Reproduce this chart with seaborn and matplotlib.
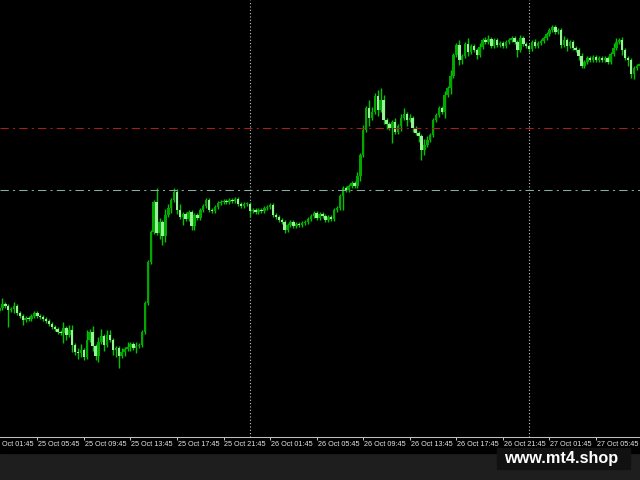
import matplotlib
matplotlib.use("Agg")
import matplotlib.pyplot as plt
from matplotlib.patches import Rectangle
from matplotlib.lines import Line2D
import pandas as pd
import seaborn as sns

# M15 bars, bar 0 = 25 Oct 01:45. The screenshot shows bars 3..223.
first_bar = 3
first_open = 126

close = [
    129, 133, 131, 127, 128, 131, 124, 121, 117, 119,
    118, 121, 124, 121, 120, 118, 116, 113, 110, 108,
    105, 104, 109, 102, 107, 92, 85, 84, 87, 80,
    97, 105, 91, 81, 95, 101, 92, 102, 97, 87,
    89, 81, 85, 88, 90, 93, 89, 91, 92, 105,
    134, 175, 205, 235, 204, 215, 201, 222, 229, 237,
    245, 227, 220, 223, 218, 225, 211, 222, 219, 227,
    231, 237, 227, 226, 230, 234, 235, 236, 235, 237,
    236, 238, 233, 231, 233, 233, 226, 227, 225, 227,
    226, 229, 230, 232, 222, 220, 217, 215, 207, 212,
    215, 211, 213, 212, 214, 215, 218, 221, 224, 219,
    223, 221, 217, 220, 218, 227, 229, 241, 249, 247,
    251, 254, 251, 261, 282, 307, 329, 319, 325, 341,
    327, 337, 317, 313, 309, 315, 305, 311, 319, 323,
    317, 319, 309, 304, 301, 287, 292, 297, 302, 317,
    322, 329, 325, 342, 349, 361, 382, 392, 377, 381,
    393, 385, 391, 387, 382, 390, 397, 395, 398, 391,
    397, 392, 394, 391, 395, 397, 399, 395, 387, 399,
    393, 391, 388, 395, 391, 394, 396, 399, 403, 407,
    410, 405, 407, 392, 397, 391, 395, 389, 387, 381,
    371, 375, 379, 377, 380, 377, 379, 377, 379, 375,
    383, 389, 395, 397, 387, 379, 377, 363, 369, 371,
    373,
]

# wick lengths that differ from the usual small one
default_wick = 2
upper_wick = {4: 6, 8: 4, 25: 6, 27: 5, 28: 5, 30: 4, 31: 6, 33: 10, 34: 3,
              35: 6, 37: 5, 38: 7, 40: 5, 41: 5, 45: 4, 47: 5, 50: 4,
              57: 14, 58: 4, 60: 6, 61: 4, 63: 4, 64: 3, 65: 6,
              126: 4, 128: 5, 130: 8, 131: 5, 132: 3, 133: 6, 134: 12, 135: 5,
              139: 4, 141: 4, 142: 6, 144: 4, 149: 6, 150: 4,
              156: 4, 158: 6, 161: 5, 164: 6, 168: 4, 170: 3, 171: 4, 182: 3,
              187: 3, 197: 4, 203: 3, 214: 5, 215: 4, 217: 3}
lower_wick = {6: 17, 8: 4, 11: 5, 25: 10, 26: 5, 28: 7, 29: 3, 30: 6, 31: 4,
              32: 3, 35: 5, 36: 4, 37: 6, 39: 6, 42: 5, 43: 7, 44: 12, 46: 4,
              48: 4, 50: 5, 58: 6, 59: 9, 60: 6, 62: 5, 64: 4, 66: 8, 69: 4,
              70: 4, 89: 6, 101: 3, 121: 14, 127: 5, 130: 8, 133: 6, 135: 4,
              136: 5, 138: 15, 141: 5, 143: 6, 145: 4, 147: 6, 148: 10, 149: 5,
              156: 6, 158: 6, 161: 5, 162: 4, 164: 4, 167: 4, 181: 7, 185: 3,
              196: 3, 198: 5, 202: 4, 217: 5, 219: 6, 220: 4, 221: 5}

tick_bars = [0, 16, 32, 48, 64, 80, 96, 112, 128, 144, 160, 176, 192, 208]
tick_labels = ["25 Oct 01:45", "25 Oct 05:45", "25 Oct 09:45", "25 Oct 13:45",
               "25 Oct 17:45", "25 Oct 21:45", "26 Oct 01:45", "26 Oct 05:45",
               "26 Oct 09:45", "26 Oct 13:45", "26 Oct 17:45", "26 Oct 21:45",
               "27 Oct 01:45", "27 Oct 05:45"]
day_breaks = [89, 185]
level_red = 309
level_teal = 247

# build OHLC table
bars = list(range(first_bar, first_bar + len(close)))
opens = [first_open] + close[:-1]
df = pd.DataFrame({"bar": bars, "open": opens, "close": close})
df["top"] = df[["open", "close"]].max(axis=1)
df["bottom"] = df[["open", "close"]].min(axis=1)
df["high"] = df["top"] + [upper_wick.get(b, default_wick) for b in bars]
df["low"] = df["bottom"] - [lower_wick.get(b, default_wick) for b in bars]
df["bull"] = df["close"] >= df["open"]
df["height"] = (df["top"] - df["bottom"]).clip(lower=1.0)

sns.set_theme(style="dark", rc={"axes.facecolor": "black",
                                "figure.facecolor": "#1e1e1e"})

fig = plt.figure(figsize=(6.4, 4.8), dpi=100)

# black strip with the time scale, grey line under it (behind the axes)
fig.patches.append(Rectangle((0, 27 / 480), 1, 16 / 480, transform=fig.transFigure,
                             color="black", zorder=-1))
fig.lines.append(Line2D([0, 1], [27.5 / 480] * 2, transform=fig.transFigure,
                        color="#b8b8b8", lw=0.75, zorder=-1))

ax = fig.add_axes([0, 43 / 480, 1, 437 / 480])
ax.set_facecolor("black")

# day separators
for b in day_breaks:
    ax.axvline(b, color="#c8c8c8", lw=0.8, ls=(0, (1, 2)), zorder=1)

# candles
ax.vlines(df["bar"], df["low"], df["high"], color="#00c400", lw=1.0, zorder=2)
bull = df[df["bull"]]
bear = df[~df["bull"]]
ax.bar(bull["bar"], bull["height"], bottom=bull["bottom"], width=0.85,
       color="#00a800", linewidth=0, zorder=2)
ax.bar(bear["bar"], bear["height"], bottom=bear["bottom"], width=0.85,
       color="#98f098", linewidth=0, zorder=2)

# levels
ax.axhline(level_red, color="#a81c1c", lw=0.75, dashes=(8, 4, 2, 4), zorder=3)
ax.axhline(level_teal, color="#86ae9e", lw=0.75, dashes=(8, 4, 2, 4), zorder=3)

ax.set_yticks([])
ax.set_xticks(tick_bars)
# limits after the ticks, otherwise set_xticks widens the view
ax.set_xlim(3.18, 223.1)
ax.set_ylim(0, 437)
ax.tick_params(axis="x", bottom=True, direction="out", length=2.5, width=0.75,
               color="#c0c0c0", labelbottom=False)
for side in ["top", "left", "right"]:
    ax.spines[side].set_visible(False)
ax.spines["bottom"].set_visible(True)
ax.spines["bottom"].set_color("#c0c0c0")
ax.spines["bottom"].set_linewidth(0.75)
ax.grid(False)

# time labels start at their tick, the first one runs off the left edge
for b, lab in zip(tick_bars, tick_labels):
    ax.text(b + 0.3, -7.3 / 437, lab, transform=ax.get_xaxis_transform(),
            ha="left", va="center", fontsize=5.2, color="#e6e6e6",
            family="Liberation Sans", clip_on=False)

# watermark
fig.patches.append(Rectangle((497 / 640, 11 / 480), 133 / 640, 21 / 480,
                             transform=fig.transFigure, color="#111111", zorder=5))
fig.text(561.5 / 640, 22 / 480, "www.mt4.shop", ha="center", va="center",
         fontsize=11.7, fontweight="bold", color="white",
         family="Liberation Sans", zorder=6)

fig.savefig("out.png", dpi=100, facecolor=fig.get_facecolor())
